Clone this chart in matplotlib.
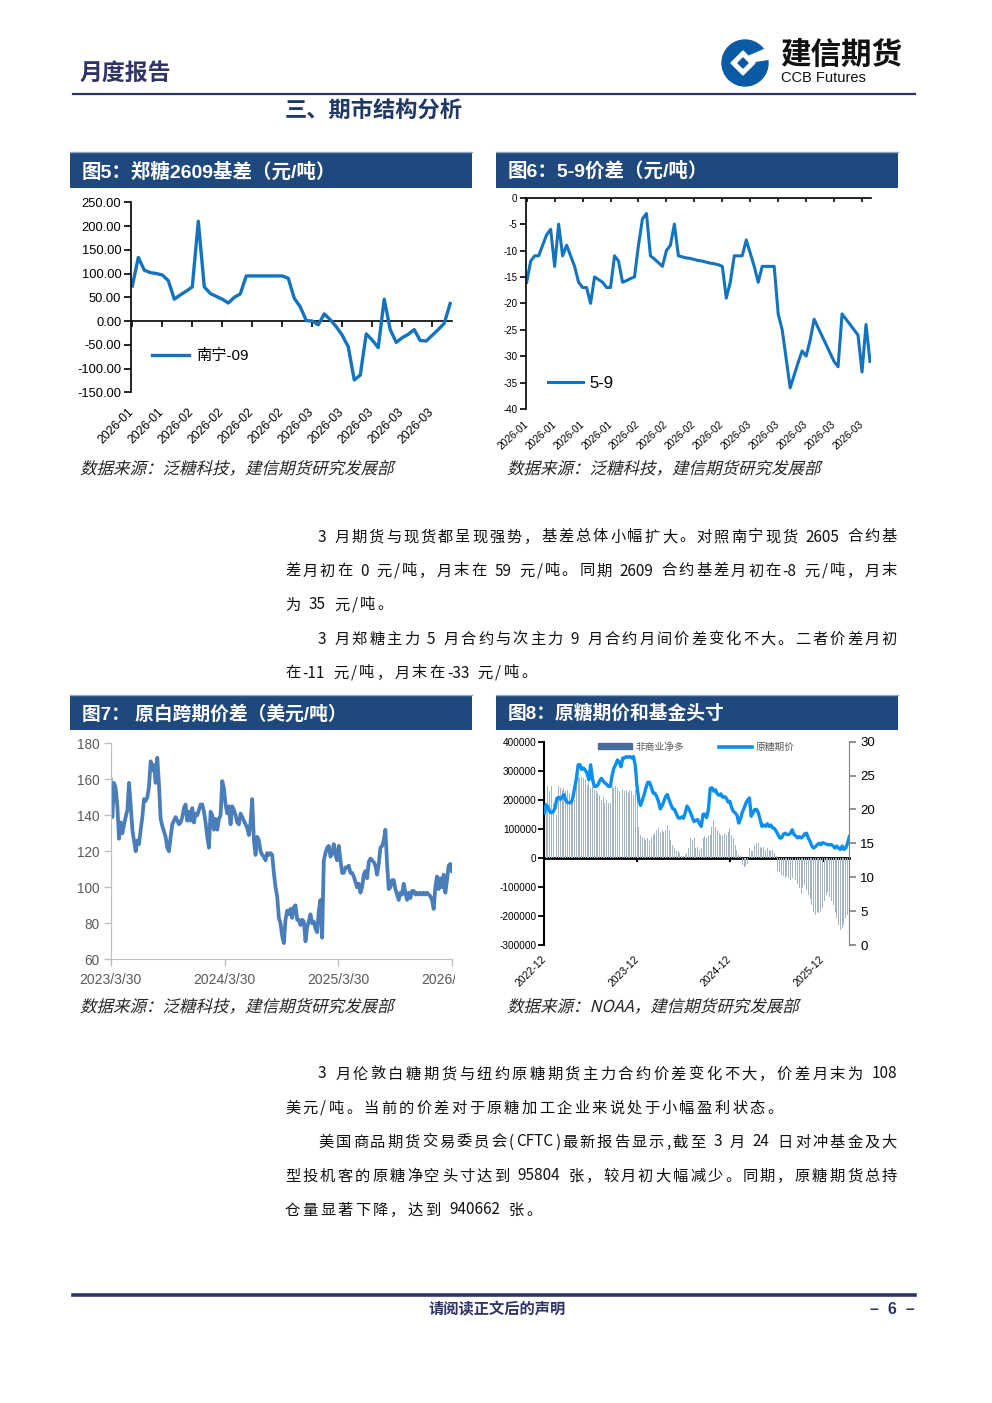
import re
import numpy as np
import pandas as pd
import matplotlib
matplotlib.use('Agg')
import matplotlib.pyplot as plt
from matplotlib.patches import Rectangle, Circle, Polygon, PathPatch, Patch
from matplotlib.lines import Line2D
from matplotlib.textpath import TextPath
from matplotlib.font_manager import FontProperties
from matplotlib.transforms import Affine2D, Bbox, TransformedBbox
from matplotlib.ticker import FormatStrFormatter

plt.rcParams['font.family'] = ['Liberation Sans', 'Noto Sans CJK SC']
plt.rcParams['axes.unicode_minus'] = False

W, H = 992, 1403
NAVY = '#2e3566'
BOX = '#1f497d'
CJK = ['Noto Sans CJK SC', 'DejaVu Sans']

# ---------------- data ----------------
# fig5: 郑糖2609基差 (元/吨)
basis_09 = [74, 134, 107, 102, 100, 97, 85, 46, 55, 63,
            72, 210, 72, 58, 52, 46, 38, 50, 57, 95,
            95, 95, 95, 95, 95, 95, 90, 48, 30, 1,
            0, -8, 15, 3, -12, -30, -54, -124, -114, -27,
            -40, -56, 46, -18, -45, -35, -28, -18, -41, -42,
            -30, -18, -5, 37]
basis_ticks = ['2026-01', '2026-01', '2026-02', '2026-02', '2026-02', '2026-02',
               '2026-03', '2026-03', '2026-03', '2026-03', '2026-03']

# fig6: 5-9价差 (元/吨)
spread_59 = [-16, -12, -11, -11, -9, -7, -6, -13, -5, -11,
             -9, -11, -13, -16, -17, -17, -20, -15, -15.5, -16,
             -17, -17, -11, -12, -16, -15.7, -15.3, -15, -9, -4,
             -3, -11, -11.6, -12.3, -13, -10, -9, -5, -11, -11.2,
             -11.4, -11.5, -11.7, -11.9, -12, -12.2, -12.4, -12.5, -12.7, -13,
             -19, -16, -11, -11, -11, -8, -10.5, -13, -16, -13,
             -13, -13, -13, -22, -25, -30.5, -36, -33.6, -31.2, -29,
             -30, -27, -23, -24.6, -26.2, -27.8, -29.4, -31, -32, -22,
             -23, -24, -25, -26, -33, -24, -31]
spread_ticks = ['2026-01'] * 4 + ['2026-02'] * 4 + ['2026-03'] * 5

# fig7: 原白跨期价差 (美元/吨), 2023/3/30 - 2026/3/30
ws_spread = [160, 139, 158, 155, 145, 127, 136, 130, 135, 139,
             143, 158, 146, 132, 126, 120, 126, 124, 132, 139,
             149, 148, 150, 156, 170, 165, 168, 158, 172, 157,
             138, 134, 131, 128, 122, 120, 128, 135, 137, 139,
             137, 135, 136, 139, 144, 146, 137, 142, 137, 144,
             136, 141, 140, 143, 146, 146, 142, 136, 128, 122,
             142, 140, 132, 138, 132, 138, 140, 159, 155, 146,
             141, 145, 135, 145, 143, 140, 136, 135, 141, 139,
             137, 135, 133, 129, 136, 149, 126, 118, 128, 126,
             120, 118, 117, 115, 119, 118, 119, 118, 108, 100,
             95, 83, 80, 73, 69, 82, 87, 85, 88, 83,
             89, 90, 82, 82, 79, 82, 81, 70, 78, 81,
             85, 80, 81, 77, 75, 87, 93, 72, 115, 119,
             122, 123, 117, 119, 124, 118, 115, 123, 115, 108,
             108, 111, 111, 112, 108, 108, 106, 103, 100, 102,
             97, 100, 107, 109, 105, 114, 116, 115, 114, 112,
             107, 113, 122, 123, 126, 132, 113, 99, 100, 104,
             104, 99, 96, 93, 97, 96, 102, 97, 93, 97,
             94, 98, 98, 96, 97, 96, 97, 96, 97, 96,
             97, 96, 95, 93, 88, 100, 106, 99, 105, 100,
             107, 97, 104, 112, 113, 109]
ws_ticks = ['2023/3/30', '2024/3/30', '2025/3/30', '2026/3/30']

# fig8: 非商业净多 (千张) and 原糖期价, weekly from 2022-12
cot_net_k = [160, 170, 246, 229, 246, 188, 222, 148, 246, 240,
             234, 240, 229, 234, 222, 200, 210, 200, 250, 277,
             275, 280, 275, 270, 252, 263, 240, 243, 235, 229,
             222, 215, 200, 210, 190, 200, 188, 190, 246, 240,
             246, 240, 229, 222, 234, 230, 234, 222, 234, 229,
             218, 234, 210, 108, 79, 73, 68, 62, 68, 57,
             68, 80, 85, 96, 102, 85, 96, 90, 96, 114,
             96, 62, 45, 33, 22, 22, 16, 5, 5, 10,
             16, 33, 68, 62, 68, 33, 39, 28, 33, 68,
             74, 68, 74, 79, 108, 131, 108, 96, 85, 79,
             74, 85, 79, 90, 102, 79, 68, 45, 28, 10,
             5, -26, -30, -28, -22, 33, 22, 22, 45, 50,
             50, 39, 33, 39, 28, 33, 28, 22, 28, 16,
             5, -45, -50, -58, -64, -70, -64, -70, -76, -70,
             -82, -76, -90, -105, -125, -105, -95, -110, -128, -140,
             -162, -185, -195, -185, -190, -185, -174, -150, -128, -118,
             -135, -150, -162, -185, -208, -231, -248, -240, -231, -208,
             -197, -185]
raw_price = [19.5, 20.7, 20.4, 19.7, 19.5, 19.7, 20.2, 21.6, 21.8, 21.5,
             21.8, 22.2, 21.4, 21.0, 21.0, 21.0, 21.7, 23.2, 24.6, 26.6,
             26.6, 25.9, 26.1, 25.8, 25.3, 24.4, 26.6, 24.5, 23.4, 23.4,
             23.6, 24.2, 24.6, 24.2, 23.9, 23.7, 23.4, 23.4, 25.0, 26.1,
             26.6, 27.3, 27.0, 26.3, 27.6, 27.6, 27.8, 27.7, 27.8, 27.6,
             27.8, 26.5, 23.4, 21.4, 20.6, 21.4, 22.2, 23.2, 24.0, 24.0,
             23.3, 22.4, 22.4, 21.9, 21.2, 20.1, 20.5, 21.2, 21.9, 22.2,
             21.4, 20.7, 20.1, 20.0, 19.4, 18.8, 18.7, 18.9, 18.7, 19.5,
             20.5, 20.1, 19.5, 18.8, 18.2, 18.4, 18.5, 17.9, 17.5, 19.3,
             19.3, 18.8, 20.0, 23.1, 23.2, 22.7, 22.9, 22.3, 22.1, 22.3,
             21.8, 21.9, 21.7, 21.1, 21.2, 20.3, 19.7, 19.5, 19.2, 18.0,
             18.6, 19.6, 20.2, 20.9, 21.4, 21.7, 19.0, 19.5, 20.0, 20.0,
             19.5, 18.5, 17.5, 17.7, 17.5, 17.9, 17.5, 17.7, 17.3, 17.2,
             16.8, 16.3, 15.8, 15.8, 16.3, 16.5, 16.3, 16.3, 16.5, 17.0,
             16.3, 16.1, 15.8, 16.0, 15.8, 16.0, 16.4, 16.5, 15.8, 15.3,
             14.6, 14.3, 14.5, 14.8, 15.0, 14.8, 15.1, 15.0, 14.9, 14.8,
             14.8, 14.8, 14.6, 14.3, 14.6, 14.3, 14.1, 14.6, 14.1, 14.3,
             15.0, 16.0]
cot_ticks = ['2022-12', '2023-12', '2024-12', '2025-12']

para1 = [
    (318, 536, '3 月期货与现货都呈现强势，基差总体小幅扩大。对照南宁现货 2605 合约基', True),
    (285, 570, '差月初在 0 元/吨，月末在 59 元/吨。同期 2609 合约基差月初在-8 元/吨，月末', True),
    (285, 604, '为 35 元/吨。', False),
    (318, 638, '3 月郑糖主力 5 月合约与次主力 9 月合约月间价差变化不大。二者价差月初', True),
    (285, 672, '在-11 元/吨，月末在-33 元/吨。', False),
]
para2 = [
    (318, 1073, '3 月伦敦白糖期货与纽约原糖期货主力合约价差变化不大，价差月末为 108', True),
    (285, 1107, '美元/吨。当前的价差对于原糖加工企业来说处于小幅盈利状态。', False),
    (318, 1141, '美国商品期货交易委员会(CFTC)最新报告显示,截至 3 月 24 日对冲基金及大', True),
    (285, 1175, '型投机客的原糖净空头寸达到 95804 张，较月初大幅减少。同期，原糖期货总持', True),
    (285, 1209, '仓量显著下降，达到 940662 张。', False),
]

# ---------------- helpers ----------------
fig = plt.figure(figsize=(W / 100, H / 100), dpi=100)
renderer = fig.canvas.get_renderer()


def fx(x):
    return x / W


def fy(y):
    return 1 - y / H


def add_ax(l, t, r, b):
    return fig.add_axes([fx(l), fy(b), (r - l) / W, (b - t) / H])


def title_box(l, t, r, b, s, size=13.5):
    fig.add_artist(Rectangle((fx(l), fy(b)), (r - l) / W, (b - t) / H,
                             transform=fig.transFigure, color=BOX, lw=0))
    fig.add_artist(Line2D([fx(l), fx(r)], [fy(t - 1), fy(t - 1)], color='#8ea9c8', lw=1))
    fig.text(fx(l + 12), fy((t + b) / 2 + 1), s, color='white', fontsize=size,
             fontweight='bold', va='center', ha='left')


def slanted(x, y, s, size_px=16.5, color='#262626'):
    tp = TextPath((0, 0), s, size=size_px, prop=FontProperties(family='Noto Sans CJK SC'))
    tr = Affine2D().skew_deg(14, 0).translate(x, H - y - 6).scale(1 / W, 1 / H)
    fig.add_artist(PathPatch(tr.transform_path(tp), transform=fig.transFigure, fc=color, lw=0))


TOKEN = re.compile(r'[0-9A-Za-z\.\-]+|\s|.')


def para_line(x0, y, s, justify, x1=897, size=11, gap=2.3):
    toks = TOKEN.findall(s)
    arts, widths = [], []
    for t in toks:
        if t.isspace():
            arts.append(None)
            widths.append(0.25 * size * 100 / 72)
            continue
        a = fig.text(0, fy(y + 5.5), t, fontsize=size, va='baseline', ha='left',
                     family=CJK, color='#111111')
        arts.append(a)
        widths.append(a.get_window_extent(renderer).width)
    if justify:
        gap = (x1 - x0 - sum(widths)) / (len(toks) - 1)
    x = x0
    for a, w in zip(arts, widths):
        if a is not None:
            a.set_x(fx(x))
        x += w + gap


# ---------------- page header / footer ----------------
fig.text(fx(80), fy(73), '月度报告', fontsize=16.5, fontweight='bold', color=NAVY,
         va='center', family=CJK)
fig.add_artist(Line2D([fx(73), fx(915)], [fy(94), fy(94)], color=NAVY, lw=1.6))
fig.text(fx(285), fy(110), '三、期市结构分析', fontsize=16, fontweight='bold',
         color='#1f3864', va='center', family=CJK)

logo = add_ax(720, 38, 770, 88)
logo.set_xlim(-25, 25)
logo.set_ylim(-25, 25)
logo.axis('off')
logo.add_patch(Circle((0, 0), 23, color='#0b5aa6'))
logo.add_patch(Polygon([(-2, 12), (10, 0), (-2, -12), (-14, 0)], color='white'))
logo.add_patch(Polygon([(2, 6), (25, 16), (25, 4), (6, 1)], color='white'))
logo.add_patch(Polygon([(-2, 5), (3, 0), (-2, -5), (-7, 0)], color='#0b5aa6'))
fig.text(fx(780), fy(55), '建信期货', fontsize=22, fontweight='bold', color='#111111',
         va='center', family=CJK)
fig.text(fx(781), fy(78), 'CCB Futures', fontsize=10.5, color='#111111', va='center')

fig.add_artist(Line2D([fx(73), fx(915)], [fy(1295), fy(1295)], color=NAVY, lw=2.6))
fig.text(fx(497), fy(1309), '请阅读正文后的声明', fontsize=11, fontweight='bold', color=NAVY,
         ha='center', va='center', family=CJK)
fig.text(fx(915), fy(1309), '–  6  –', fontsize=11.5, fontweight='bold', color=NAVY,
         ha='right', va='center')

# ---------------- fig5 ----------------
title_box(70, 153, 472, 188, '图5：郑糖2609基差（元/吨）', size=14)
ax5 = add_ax(131, 202.3, 452, 392.3)
i5 = np.arange(len(basis_09))
ax5.plot(i5, basis_09, color='#1473be', lw=2.4, label='南宁-09', solid_joinstyle='round')
ax5.set_xlim(-0.22, 53.3)
ax5.set_ylim(-150, 250)
ax5.set_yticks(np.arange(-150, 251, 50))
ax5.yaxis.set_major_formatter(FormatStrFormatter('%.2f'))
for s in ['top', 'right', 'bottom']:
    ax5.spines[s].set_visible(False)
ax5.spines['left'].set_linewidth(1.2)
ax5.tick_params(axis='y', direction='out', length=5, width=1.2, labelsize=9.3, pad=2)
ax5.set_xticks(i5[::5])
ax5.set_xticklabels(basis_ticks, rotation=45, ha='right', va='center',
                    rotation_mode='anchor', fontsize=8.7)
ax5.tick_params(axis='x', length=0, pad=13)
sec5 = ax5.secondary_xaxis(0, transform=ax5.transData)
sec5.set_xticks(i5[::5])
sec5.tick_params(axis='x', length=4, width=1.2, direction='out', labelbottom=False, labeltop=False)
sec5.spines['bottom'].set_linewidth(1.2)
ax5.legend(loc='center left', bbox_to_anchor=(0.065, 0.19), frameon=False, fontsize=11,
           handlelength=2.4, handletextpad=0.5, borderpad=0, borderaxespad=0)
slanted(80, 468, '数据来源：泛糖科技，建信期货研究发展部')

# ---------------- fig6 ----------------
title_box(496, 153, 898, 188, '图6：5-9价差（元/吨）', size=14)
ax6 = add_ax(525.7, 197.7, 871, 409)
i6 = np.arange(len(spread_59))
ax6.plot(i6, spread_59, color='#1473be', lw=2.2, label='5-9', solid_joinstyle='round')
ax6.set_xlim(-0.25, 86.25)
ax6.set_ylim(-40, 0)
ax6.set_yticks(np.arange(-40, 1, 5))
for s in ['right', 'bottom']:
    ax6.spines[s].set_visible(False)
ax6.spines['left'].set_linewidth(1.2)
ax6.spines['top'].set_linewidth(1.2)
ax6.tick_params(axis='y', direction='out', length=4, width=1.2, labelsize=7, pad=2)
ax6.set_xticks(i6[::7])
ax6.set_xticklabels(spread_ticks, rotation=42, ha='right', va='center',
                    rotation_mode='anchor', fontsize=7.3)
ax6.tick_params(axis='x', top=True, bottom=False, direction='in', length=3, width=1.2,
                labelbottom=True, labeltop=False, pad=10)
ax6.legend(loc='center left', bbox_to_anchor=(0.065, 0.123), frameon=False, fontsize=12,
           handlelength=2.1, handletextpad=0.4, borderpad=0, borderaxespad=0)
slanted(507, 468, '数据来源：泛糖科技，建信期货研究发展部')

# ---------------- fig7 ----------------
title_box(70, 696, 472, 730, '图7： 原白跨期价差（美元/吨）')
ax7 = add_ax(110.7, 743.3, 452, 959.3)
d7 = pd.date_range('2023-03-30', '2026-03-30', periods=len(ws_spread))
ax7.plot(d7, ws_spread, color='#4a7ebb', lw=2.7, solid_joinstyle='round')
ax7.set_xlim(d7[0], d7[-1])
ax7.set_ylim(60, 180)
ax7.set_yticks(np.arange(60, 181, 20))
for s in ['top', 'right']:
    ax7.spines[s].set_visible(False)
for s in ['left', 'bottom']:
    ax7.spines[s].set_color('#bfbfbf')
ax7.tick_params(axis='both', colors='#bfbfbf', labelcolor='#595959', length=5, width=1)
ax7.tick_params(axis='y', labelsize=9.8, pad=3)
ax7.set_xticks(pd.to_datetime(['2023-03-30', '2024-03-30', '2025-03-30', '2026-03-30']))
ax7.set_xticklabels(ws_ticks, fontsize=10)
ax7.tick_params(axis='x', pad=5)
clip = TransformedBbox(Bbox([[0, 0], [fx(455), 1]]), fig.transFigure)
for lab in ax7.get_xticklabels():
    lab.set_clip_box(clip)
    lab.set_clip_on(True)
slanted(80, 1006, '数据来源：泛糖科技，建信期货研究发展部')

# ---------------- fig8 ----------------
title_box(496, 696, 898, 730, '图8：原糖期价和基金头寸')
ax8 = add_ax(544.3, 741.7, 849.3, 945)
i8 = np.arange(len(cot_net_k))
ax8.bar(i8, np.array(cot_net_k) * 1000, width=0.55, color='#a3b4c5', lw=0)
ax8.set_xlim(0, len(cot_net_k) - 1)
ax8.set_ylim(-300000, 400000)
ax8.set_yticks(np.arange(-300000, 400001, 100000))
ax8.yaxis.set_major_formatter(FormatStrFormatter('%d'))
for s in ['top', 'right', 'bottom']:
    ax8.spines[s].set_visible(False)
ax8.spines['left'].set_linewidth(1.5)
ax8.tick_params(axis='y', direction='out', length=4, width=1.3, labelsize=7.2, pad=1.5)
ax8.set_xticks([0, 52, 104, 156])
ax8.set_xticklabels(cot_ticks, rotation=45, ha='right', va='center',
                    rotation_mode='anchor', fontsize=7.5)
ax8.tick_params(axis='x', length=0, pad=9)
sec8 = ax8.secondary_xaxis(0, transform=ax8.transData)
sec8.set_xticks([52, 104, 156])
sec8.tick_params(axis='x', length=3, width=1.5, direction='out', labelbottom=False, labeltop=False)
sec8.spines['bottom'].set_linewidth(2)

ax8r = ax8.twinx()
ax8r.plot(i8, raw_price, color='#0a8ff0', lw=2.4, solid_joinstyle='round')
ax8r.set_ylim(0, 30)
ax8r.set_yticks(np.arange(0, 31, 5))
for s in ['top', 'left', 'bottom']:
    ax8r.spines[s].set_visible(False)
ax8r.spines['right'].set_color('#7f7f7f')
ax8r.tick_params(axis='y', direction='out', length=5, width=1.2, color='#7f7f7f',
                 labelsize=9.5, pad=3)
handles = [Patch(color='#4a6b9d'), Line2D([], [], color='#0a8ff0', lw=2.6)]
ax8r.legend(handles, ['非商业净多', '原糖期价'], loc='center', bbox_to_anchor=(0.5, 0.975),
            ncol=2, frameon=False, fontsize=7, labelcolor='#595959', handlelength=3.4,
            handleheight=0.6, handletextpad=0.4, columnspacing=3.6, borderpad=0)
slanted(507, 1006, '数据来源：NOAA，建信期货研究发展部')

# ---------------- body text ----------------
for x0, y, s, j in para1 + para2:
    para_line(x0, y, s, j)

fig.savefig('out.png', dpi=100)
